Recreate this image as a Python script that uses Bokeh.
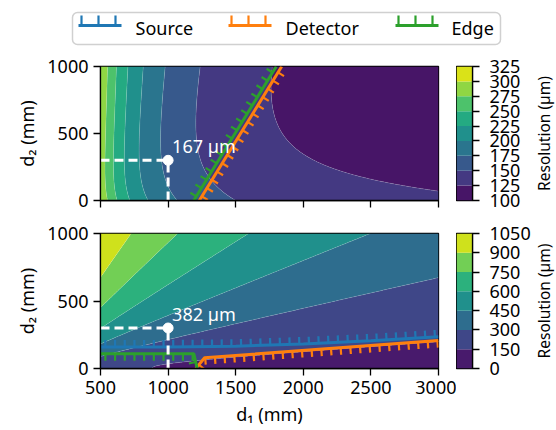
import numpy as np
from bokeh.plotting import figure
from bokeh.layouts import column, row
from bokeh.models import Range1d, FixedTicker
from bokeh.palettes import Viridis256
from bokeh.core.properties import value
from bokeh.embed import file_html
from bokeh.resources import INLINE

FONT = "Noto Sans"
FS = "18px"

# ---------------- data ----------------
d1_ticks = [500, 1000, 1500, 2000, 2500, 3000]
d2_ticks = [0, 500, 1000]
d1_lim = [500, 3000]
d2_lim = [0, 1000]

top_levels = [100, 125, 150, 175, 200, 225, 250, 275, 300, 325]
bot_levels = [0, 150, 300, 450, 600, 750, 900, 1050]

# resolution model parameters (um, mm*um)
top_params = dict(K=137000.0, src=172.0, det=119.0)
bot_params = dict(K=80000.0, src=1540.0, det=120.0)

# constraint lines (d1, d2 in mm)
top_detector_d1 = [1231, 1840]
top_detector_d2 = [0, 1000]
top_edge_d1 = [1190, 1800]
top_edge_d2 = [0, 1000]

bot_source_d1 = [500, 1000, 1500, 2000, 2500, 3000]
bot_source_d2 = [160, 160, 165, 182, 205, 235]
bot_detector_d1 = [1205, 1270, 3000]
bot_detector_d2 = [0, 80, 207]
bot_edge_d1 = [500, 1190, 1215]
bot_edge_d2 = [110, 110, 0]

mark_d1 = 1000
mark_d2 = 300
top_mark_label = "167 µm"
bot_mark_label = "382 µm"
cbar_title = "Resolution (µm)"

legend_names = ["Source", "Detector", "Edge"]
legend_colors = ["#1f77b4", "#ff7f0e", "#2ca02c"]

# ---------------- helpers ----------------
FRAME_W = 338
MAIN_W = 456
CBAR_W = 78
LAB_W = 22


def resolution(D1, D2, K, src, det):
    tot = D1 + D2
    return np.sqrt((K / D1) ** 2 + (det * D1 / tot) ** 2 + (src * D2 / tot) ** 2)


def band_colors(n):
    return [Viridis256[min(255, int((i + 0.5) / n * 256))] for i in range(n)]


def style_axes(p):
    for ax in p.axis:
        ax.major_label_text_font = FONT
        ax.major_label_text_font_size = FS
        ax.major_label_text_color = "black"
        ax.axis_label_text_font = FONT
        ax.axis_label_text_font_size = FS
        ax.axis_label_text_font_style = "normal"
        ax.axis_label_text_color = "black"
        ax.major_tick_in = 0
        ax.major_tick_out = 7
        ax.major_tick_line_width = 1.3
        ax.minor_tick_line_color = None
        ax.axis_line_width = 1.3
    p.outline_line_color = "black"
    p.outline_line_width = 1.3
    p.outline_line_alpha = 1
    p.grid.visible = False


def hatched(p, xs, ys, color, side, fh, spacing=9.7, length=7):
    sx = FRAME_W / (d1_lim[1] - d1_lim[0])
    sy = fh / (d2_lim[1] - d2_lim[0])
    P = np.column_stack([(np.array(xs, float) - d1_lim[0]) * sx, np.array(ys, float) * sy])
    seg = np.diff(P, axis=0)
    L = np.hypot(seg[:, 0], seg[:, 1])
    cum = np.concatenate([[0], np.cumsum(L)])
    t = np.arange(spacing * 0.5, cum[-1], spacing)
    x0, y0, x1, y1 = [], [], [], []
    for ti in t:
        k = min(np.searchsorted(cum, ti, side="right") - 1, len(L) - 1)
        f = (ti - cum[k]) / L[k]
        pt = P[k] + f * seg[k]
        d = seg[k] / L[k]
        n = np.array([-d[1], d[0]]) * side
        q = pt + n * length
        x0.append(pt[0] / sx + d1_lim[0]); y0.append(pt[1] / sy)
        x1.append(q[0] / sx + d1_lim[0]); y1.append(q[1] / sy)
    p.segment(x0, y0, x1, y1, line_color=color, line_width=2.2)
    p.line(xs, ys, line_color=color, line_width=3)


def main_fig(height, top_b, bottom_b, params, levels, show_x):
    p = figure(width=MAIN_W, height=height, x_range=Range1d(*d1_lim), y_range=Range1d(*d2_lim),
               min_border_left=100, min_border_right=MAIN_W - 100 - FRAME_W,
               min_border_top=top_b, min_border_bottom=bottom_b,
               toolbar_location=None, output_backend="svg")
    d1g = np.linspace(d1_lim[0], d1_lim[1], 301)
    d2g = np.linspace(d2_lim[0], d2_lim[1], 201)
    D1, D2 = np.meshgrid(d1g, d2g)
    Z = resolution(D1, D2, **params)
    p.contour(d1g, d2g, Z, levels, fill_color=band_colors(len(levels) - 1),
              line_color="white", line_alpha=0.25, line_width=0.6)
    p.xaxis.ticker = FixedTicker(ticks=d1_ticks)
    p.yaxis.ticker = FixedTicker(ticks=d2_ticks)
    p.yaxis.axis_label = "d₂ (mm)"
    if show_x:
        p.xaxis.axis_label = "d₁ (mm)"
    style_axes(p)
    if not show_x:
        p.xaxis.major_label_overrides = {t: "" for t in d1_ticks}
    return p


def annotate(p, label):
    p.line([d1_lim[0], mark_d1], [mark_d2, mark_d2], line_color="white", line_width=3, line_dash="9 5")
    p.line([mark_d1, mark_d1], [d2_lim[0], mark_d2], line_color="white", line_width=3, line_dash="9 5")
    p.scatter([mark_d1], [mark_d2], size=10, fill_color="white", line_color="white")
    p.text([mark_d1], [mark_d2], text=[label], x_offset=4, y_offset=-2, text_baseline="bottom",
           text_align="left", text_color="white", text_font=value(FONT), text_font_size=FS)


def cbar_fig(height, top_b, bottom_b, levels):
    p = figure(width=CBAR_W, height=height, x_range=Range1d(0, 1), y_range=Range1d(levels[0], levels[-1]),
               x_axis_location=None, y_axis_location="right",
               min_border_left=0, min_border_right=CBAR_W - 16,
               min_border_top=top_b, min_border_bottom=bottom_b,
               toolbar_location=None, output_backend="svg")
    p.quad(left=0, right=1, bottom=levels[:-1], top=levels[1:], fill_color=band_colors(len(levels) - 1),
           line_color=None)
    p.yaxis.ticker = FixedTicker(ticks=levels)
    style_axes(p)
    p.yaxis.major_label_standoff = 10
    return p


def label_fig(height, top_b, bottom_b):
    p = figure(width=LAB_W, height=height, x_range=Range1d(0, 1), y_range=Range1d(0, 1),
               x_axis_location=None, y_axis_location=None,
               min_border_left=0, min_border_right=0, min_border_top=top_b, min_border_bottom=bottom_b,
               toolbar_location=None, output_backend="svg")
    p.outline_line_color = None
    p.grid.visible = False
    p.text([0.45], [0.5], text=[cbar_title],
           angle=np.pi / 2, text_align="center", text_baseline="middle", text_color="black",
           text_font=value(FONT), text_font_size="15.5px")
    return p


# ---------------- legend ----------------
LEG_H = 52
leg = figure(width=556, height=LEG_H, x_range=Range1d(0, 556), y_range=Range1d(LEG_H, 0),
             x_axis_location=None, y_axis_location=None, min_border=0,
             toolbar_location=None, output_backend="svg")
leg.outline_line_color = None
leg.grid.visible = False
leg.quad(left=72, right=500, top=12, bottom=44, fill_color="white", line_color="#d0d0d0", line_width=1.5,
         border_radius=5)
sym_x = [78, 228, 395]
txt_x = [135, 285, 451]
for name, c, sx0, tx in zip(legend_names, legend_colors, sym_x, txt_x):
    leg.segment([sx0 + 3, sx0 + 20, sx0 + 37], [25] * 3, [sx0 + 3, sx0 + 20, sx0 + 37], [15] * 3,
                line_color=c, line_width=2.2)
    leg.line([sx0, sx0 + 43], [25, 25], line_color=c, line_width=3)
    leg.text([tx], [27], text=[name], text_baseline="middle", text_align="left", text_color="black",
             text_font=value(FONT), text_font_size=FS)

# ---------------- top panel ----------------
H1, T1, B1 = 164, 14, 16
top = main_fig(H1, T1, B1, top_params, top_levels, show_x=False)
hatched(top, top_detector_d1, top_detector_d2, legend_colors[1], -1, H1 - T1 - B1)
hatched(top, top_edge_d1, top_edge_d2, legend_colors[2], +1, H1 - T1 - B1)
annotate(top, top_mark_label)
top_cb = cbar_fig(H1, T1, B1, top_levels)
top_lab = label_fig(H1, T1, B1)

# ---------------- bottom panel ----------------
H2, T2, B2 = 214, 17, 62
bot = main_fig(H2, T2, B2, bot_params, bot_levels, show_x=True)
hatched(bot, bot_source_d1, bot_source_d2, legend_colors[0], +1, H2 - T2 - B2)
hatched(bot, bot_detector_d1, bot_detector_d2, legend_colors[1], -1, H2 - T2 - B2)
hatched(bot, bot_edge_d1, bot_edge_d2, legend_colors[2], -1, H2 - T2 - B2)
annotate(bot, bot_mark_label)
bot_cb = cbar_fig(H2, T2, B2, bot_levels)
bot_lab = label_fig(H2, T2, B2)

layout = column(leg, row(top, top_cb, top_lab), row(bot, bot_cb, bot_lab))
open("out.html", "w").write(file_html(layout, INLINE))
